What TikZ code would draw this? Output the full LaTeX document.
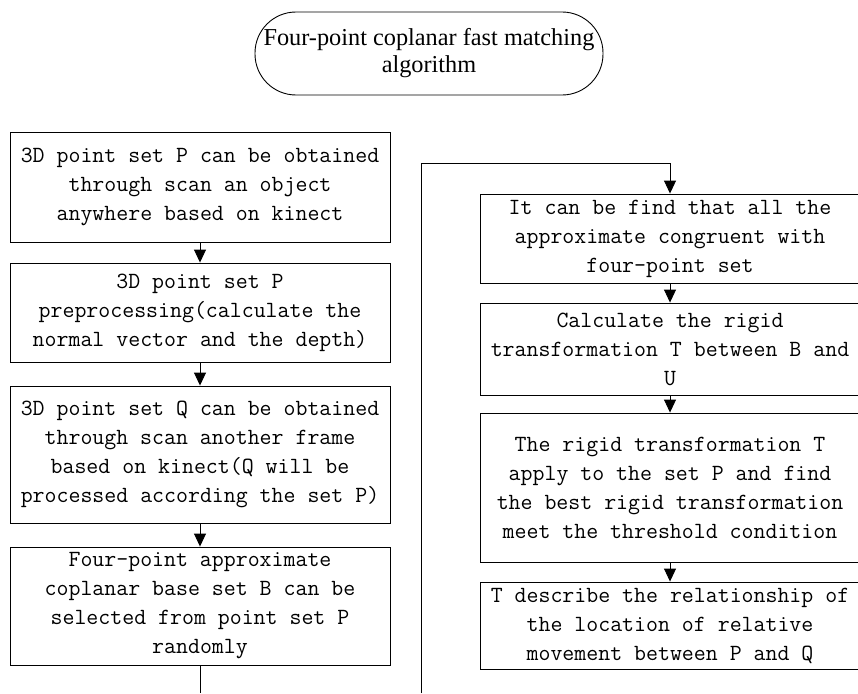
\documentclass[tikz,border=0pt]{standalone}
\usepackage{fontspec}
\setmainfont{Liberation Serif}
\usetikzlibrary{arrows.meta}
\begin{document}
\begin{tikzpicture}[x=1pt,y=-1pt,
  box/.style={draw, line width=0.9pt, minimum width=380pt, align=center,
    inner sep=2pt, font=\fontsize{23.2}{29}\ttfamily\selectfont},
  terminal/.style={draw, line width=0.9pt, rounded corners=41pt,
    minimum width=348pt, minimum height=83pt, align=center, inner sep=0pt,
    font=\fontsize{24.3}{27}\selectfont},
  flow/.style={line width=0.9pt, -{Triangle[width=12pt,length=13pt]}},
  link/.style={line width=0.9pt}]
\useasboundingbox (0,0) rectangle (858,693);
\clip (0,0) rectangle (858,693);

% start terminal
\node[terminal] (start) at (429,53.5) {Four-point coplanar fast matching\\algorithm};

% left column
\node[box, minimum height=110pt] (p1) at (200,187)
  {3D point set P can be obtained\\through scan an object\\anywhere based on kinect};
\node[box, minimum height=99pt] (p2) at (200,312.5)
  {3D point set P\\preprocessing(calculate the\\normal vector and the depth)};
\node[box, minimum height=137pt] (p3) at (200,454.5)
  {3D point set Q can be obtained\\through scan another frame\\based on kinect(Q will be\\processed according the set P)};
\node[box, minimum height=118pt] (p4) at (200,606)
  {Four-point approximate\\coplanar base set B can be\\selected from point set P\\randomly};

% right column
\node[box, minimum height=89pt] (q1) at (670,238.5)
  {It can be find that all the\\approximate congruent with\\four-point set};
\node[box, minimum height=92pt] (q2) at (670,349)
  {Calculate the rigid\\transformation T between B and\\U};
\node[box, minimum height=149pt] (q3) at (670,487.5)
  {The rigid transformation T\\apply to the set P and find\\the best rigid transformation\\meet the threshold condition};
\node[box, minimum height=87pt] (q4) at (670,625.5)
  {T describe the relationship of\\the location of relative\\movement between P and Q};

% connectors
\draw[flow] (p1) -- (p2);
\draw[flow] (p2) -- (p3);
\draw[flow] (p3) -- (p4);
\coordinate (out) at (200,693);
\draw[link] (p4) -- (out);

\coordinate (in) at (421,693);
\coordinate (turn) at (421,163);
\draw[flow] (in) -- (turn) -| (q1.north);
\draw[flow] (q1) -- (q2);
\draw[flow] (q2) -- (q3);
\draw[flow] (q3) -- (q4);
\end{tikzpicture}
\end{document}
